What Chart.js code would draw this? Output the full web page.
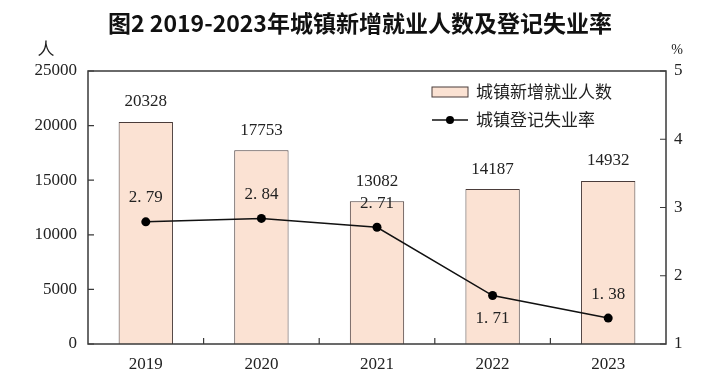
<!DOCTYPE html>
<html><head><meta charset="utf-8">
<script src="https://cdn.jsdelivr.net/npm/chart.js@4.4.0/dist/chart.umd.min.js"></script>
<style>html,body{margin:0;padding:0;background:#fff}canvas{display:block}</style>
</head><body>
<canvas id="c" width="720" height="383"></canvas>
<script>
const categories = ["2019", "2020", "2021", "2022", "2023"];
const newJobs = [20328, 17753, 13082, 14187, 14932];
const unemployment = [2.79, 2.84, 2.71, 1.71, 1.38];
const rateLabelBelow = [false, false, false, true, false];
const leftTicks = [0, 5000, 10000, 15000, 20000, 25000];
const rightTicks = [1, 2, 3, 4, 5];
const titleText = "图2 2019-2023年城镇新增就业人数及登记失业率";
const seriesNames = ["城镇新增就业人数", "城镇登记失业率"];
const leftUnit = "人", rightUnit = "%";

const SERIF = '"Liberation Serif", "DejaVu Serif", serif';
const CJK = '"Noto Sans CJK SC", "Noto Sans", sans-serif';
const AXIS = '#3a3a3a';

const deco = {
  id: 'deco',
  afterDatasetsDraw(chart) {
    const ctx = chart.ctx, a = chart.chartArea;
    const xs = chart.scales.x, yl = chart.scales.y, yr = chart.scales.y1;
    ctx.save();
    ctx.strokeStyle = AXIS; ctx.lineWidth = 1.5;
    ctx.strokeRect(a.left, a.top, a.right - a.left, a.bottom - a.top);
    ctx.lineWidth = 1.2;
    ctx.beginPath();
    leftTicks.forEach(v => { const y = yl.getPixelForValue(v); ctx.moveTo(a.left, y); ctx.lineTo(a.left + 6, y); });
    rightTicks.forEach(v => { const y = yr.getPixelForValue(v); ctx.moveTo(a.right, y); ctx.lineTo(a.right - 6, y); });
    for (let i = 0; i < categories.length - 1; i++) {
      const x = (xs.getPixelForValue(i) + xs.getPixelForValue(i + 1)) / 2;
      ctx.moveTo(x, a.bottom); ctx.lineTo(x, a.bottom - 6);
    }
    ctx.stroke();
    // tick labels
    ctx.fillStyle = '#222'; ctx.font = '17px ' + SERIF;
    ctx.textBaseline = 'middle';
    ctx.textAlign = 'right';
    leftTicks.forEach(v => ctx.fillText(String(v), a.left - 11, yl.getPixelForValue(v)));
    ctx.textAlign = 'left';
    rightTicks.forEach(v => ctx.fillText(String(v), a.right + 8, yr.getPixelForValue(v)));
    ctx.textAlign = 'center';
    categories.forEach((c, i) => ctx.fillText(c, xs.getPixelForValue(i), a.bottom + 21));
    // value labels
    const bm = chart.getDatasetMeta(0);
    bm.data.forEach((el, i) => ctx.fillText(String(newJobs[i]), el.x, el.y - 20));
    const lm = chart.getDatasetMeta(1);
    lm.data.forEach((el, i) => {
      const t = unemployment[i].toFixed(2).replace('.', '. ');
      ctx.fillText(t, el.x, rateLabelBelow[i] ? el.y + 23 : el.y - 24);
    });
    // title
    ctx.fillStyle = '#111'; ctx.font = 'bold 23px ' + CJK;
    ctx.fillText(titleText, 360, 23);
    // units
    ctx.font = '17px ' + CJK; ctx.fillStyle = '#222';
    ctx.fillText(leftUnit, 46, 49);
    ctx.font = '14px ' + SERIF;
    ctx.fillText(rightUnit, 677, 50);
    // legend
    const lx = 432, ly1 = 92, ly2 = 120;
    ctx.fillStyle = '#FBE2D3'; ctx.fillRect(lx, ly1 - 5, 36, 10);
    ctx.strokeStyle = '#4a3c3a'; ctx.lineWidth = 1; ctx.strokeRect(lx, ly1 - 5, 36, 10);
    ctx.strokeStyle = '#111'; ctx.lineWidth = 1.5;
    ctx.beginPath(); ctx.moveTo(lx, ly2); ctx.lineTo(lx + 36, ly2); ctx.stroke();
    ctx.fillStyle = '#000'; ctx.beginPath(); ctx.arc(lx + 18, ly2, 4, 0, Math.PI * 2); ctx.fill();
    ctx.fillStyle = '#222'; ctx.font = '17px ' + CJK; ctx.textAlign = 'left';
    ctx.fillText(seriesNames[0], 476, ly1);
    ctx.fillText(seriesNames[1], 476, ly2);
    ctx.restore();
  }
};

new Chart(document.getElementById('c'), {
  data: {
    labels: categories,
    datasets: [
      { type: 'bar', label: seriesNames[0], data: newJobs, yAxisID: 'y',
        backgroundColor: '#FBE2D3', borderColor: '#4a3c3a', borderWidth: 1,
        categoryPercentage: 1, barPercentage: 0.47, order: 1 },
      { type: 'line', label: seriesNames[1], data: unemployment, yAxisID: 'y1',
        borderColor: '#111', borderWidth: 1.5, pointRadius: 4.5, pointBackgroundColor: '#000',
        pointBorderWidth: 0, tension: 0, order: 0 }
    ]
  },
  options: {
    responsive: false, animation: false, devicePixelRatio: 1,
    layout: { padding: { top: 71, left: 0, right: 0, bottom: 0 } },
    plugins: { legend: { display: false }, title: { display: false }, tooltip: { enabled: false } },
    scales: {
      x: { type: 'category', offset: true,
        grid: { display: false, drawTicks: false }, border: { display: false },
        ticks: { display: false },
        afterFit: s => { s.height = 39; } },
      y: { position: 'left', min: 0, max: 25000,
        grid: { display: false, drawTicks: false }, border: { display: false },
        ticks: { display: false, stepSize: 5000 },
        afterFit: s => { s.width = 88; } },
      y1: { position: 'right', min: 1, max: 5,
        grid: { display: false, drawTicks: false }, border: { display: false },
        ticks: { display: false, stepSize: 1 },
        afterFit: s => { s.width = 54; } }
    }
  },
  plugins: [deco]
});
</script>
</body></html>
